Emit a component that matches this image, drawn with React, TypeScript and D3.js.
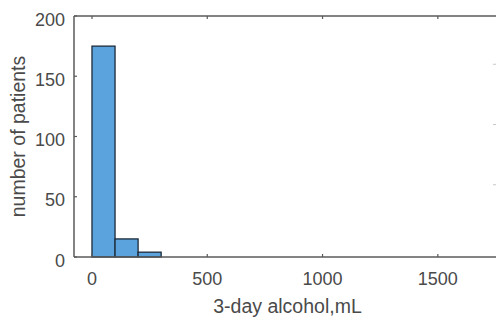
import React, { useRef, useEffect } from 'react';
import * as d3 from 'd3';

// histogram bins (mL) and counts
const binEdges = [0, 100, 200, 300];
const counts = [175, 15, 4];
const xTicks = [0, 500, 1000, 1500];
const yTicks = [0, 50, 100, 150, 200];

const App: React.FC = () => {
    const ref = useRef<SVGSVGElement>(null);

    useEffect(() => {
        if (!ref.current) return;
        const svg = d3.select(ref.current);
        svg.selectAll("*").remove();

        const left = 74, right = 501, top = 16, bottom = 257;
        const axisColor = "#5a5a5a";
        const textColor = "#4a4a4a";
        const font = "'Liberation Sans', Arial, sans-serif";

        const x = d3.scaleLinear().domain([-78, 1774]).range([left, right]);
        const y = d3.scaleLinear().domain([0, 200]).range([bottom, top]);

        const bars = counts.map((c, i) => ({ x0: binEdges[i], x1: binEdges[i + 1], c }));

        svg.append("g").selectAll("rect")
            .data(bars)
            .enter()
            .append("rect")
            .attr("x", d => x(d.x0))
            .attr("y", d => y(d.c))
            .attr("width", d => x(d.x1) - x(d.x0))
            .attr("height", d => y(0) - y(d.c))
            .attr("fill", "#5ba3dc")
            .attr("stroke", "#1d2b3a")
            .attr("stroke-width", 1.3);

        // box
        svg.append("line").attr("x1", left).attr("x2", right).attr("y1", bottom).attr("y2", bottom)
            .attr("stroke", axisColor).attr("stroke-width", 1.5);
        svg.append("line").attr("x1", left).attr("x2", right).attr("y1", top).attr("y2", top)
            .attr("stroke", axisColor).attr("stroke-width", 1.5);
        svg.append("line").attr("x1", left).attr("x2", left).attr("y1", top).attr("y2", bottom)
            .attr("stroke", axisColor).attr("stroke-width", 1.5);

        // x ticks (inward, bottom and top)
        const xt = svg.append("g");
        xTicks.forEach(t => {
            xt.append("line").attr("x1", x(t)).attr("x2", x(t)).attr("y1", bottom).attr("y2", bottom - 3)
                .attr("stroke", axisColor).attr("stroke-width", 1.2);
            xt.append("line").attr("x1", x(t)).attr("x2", x(t)).attr("y1", top).attr("y2", top + 3)
                .attr("stroke", axisColor).attr("stroke-width", 1.2);
            xt.append("text").attr("x", x(t)).attr("y", bottom + 28)
                .attr("text-anchor", "middle").attr("font-family", font).attr("font-size", 18)
                .attr("fill", textColor).text(String(t));
        });

        // y ticks
        const yt = svg.append("g");
        yTicks.forEach(t => {
            yt.append("line").attr("x1", left).attr("x2", left + 3).attr("y1", y(t)).attr("y2", y(t))
                .attr("stroke", axisColor).attr("stroke-width", 1.2);
            yt.append("text").attr("x", left - 9).attr("y", y(t) + 9.5)
                .attr("text-anchor", "end").attr("font-family", font).attr("font-size", 18)
                .attr("fill", textColor).text(String(t));
        });

        // faint tick marks of the neighbouring axis at right edge
        [50, 100, 150].forEach(t => {
            svg.append("line").attr("x1", 493).attr("x2", 496).attr("y1", y(t) - 12).attr("y2", y(t) - 12)
                .attr("stroke", "#c8c8c8").attr("stroke-width", 1);
        });

        svg.append("text")
            .attr("x", (left + right) / 2).attr("y", 313)
            .attr("text-anchor", "middle").attr("font-family", font).attr("font-size", 19.5)
            .attr("fill", textColor).text("3-day alcohol,mL");

        svg.append("text")
            .attr("transform", `translate(25,${(top + bottom) / 2}) rotate(-90)`)
            .attr("text-anchor", "middle").attr("font-family", font).attr("font-size", 19.5)
            .attr("fill", textColor).text("number of patients");
    }, []);

    return (
        <div style={{ position: 'fixed', left: 0, top: 0, width: 496, height: 319, background: '#fff' }}>
            <svg ref={ref} width={496} height={319} style={{ display: 'block' }} />
        </div>
    );
};

export default App;
